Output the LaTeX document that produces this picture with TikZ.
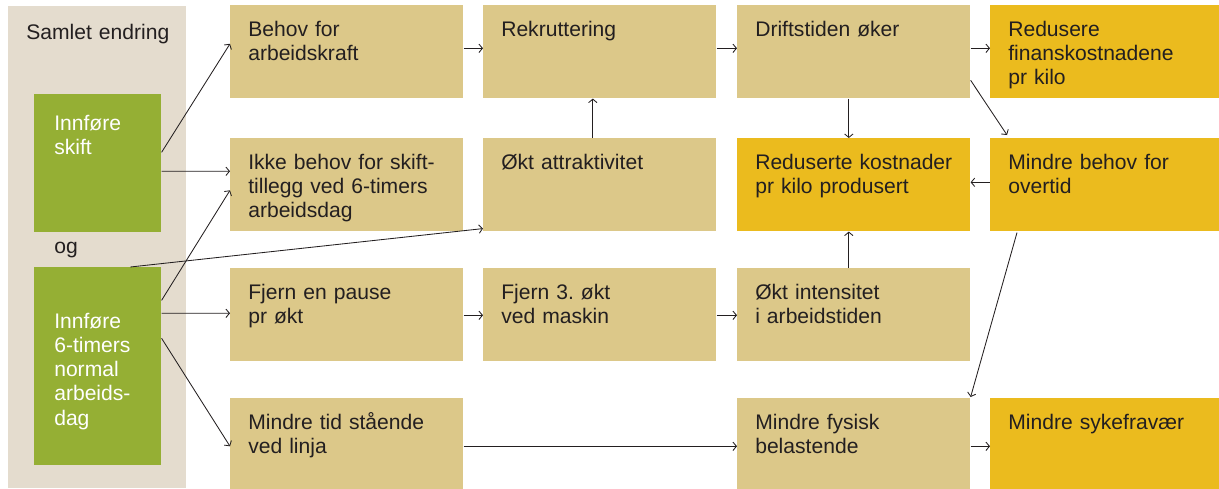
\documentclass[tikz,border=0pt]{standalone}
\usepackage{fontspec}
\setmainfont{Liberation Sans}
\usetikzlibrary{calc,arrows.meta}

\definecolor{panel}{RGB}{228,220,206}
\definecolor{leaf}{RGB}{149,175,52}
\definecolor{straw}{RGB}{220,200,137}
\definecolor{gold}{RGB}{235,187,30}
\definecolor{ink}{RGB}{35,31,32}

\begin{document}
\begin{tikzpicture}[x=0.025cm,y=-0.025cm,
    font=\fontsize{15}{17.2}\selectfont, text=ink,
    arr/.style={draw=ink, line width=0.6pt, -{Straight Barb[length=2.5pt,width=6pt]}}]

        \useasboundingbox (0,0) rectangle (1219,488);

        % left column
        \node[fill=panel, anchor=north west, text width=3.55cm, align=left,
              inner xsep=0.45cm, inner ysep=0.45cm, text height=0.375cm,
              text depth=10.775cm] (0) at (8,6) {\mbox{Samlet endring}};
        \node[anchor=base west, inner sep=0pt] (og) at (54,253) {og};

        \begin{scope}[every node/.style={fill=leaf, text=white, anchor=north west,
              text width=2.175cm, align=left, inner xsep=0.5cm, inner ysep=0.525cm}]
          \node[text height=0.375cm, text depth=2.025cm] (1) at (34,94) {Innføre\\skift};
          \node[text height=1.0cm, text depth=2.9cm] (2) at (34,267)
            {Innføre\\6-timers\\normal\\arbeids-\\dag};
        \end{scope}

        \begin{scope}[every node/.style={fill=straw, anchor=north west, text width=4.925cm,
              align=left, inner xsep=0.45cm, inner ysep=0.4cm,
              text height=0.375cm, text depth=1.15cm}]
          \node (3)  at (230,5)   {Behov for\\arbeidskraft};
          \node (4)  at (483,5)   {Rekruttering};
          \node (5)  at (737,5)   {Driftstiden øker};
          \node[fill=gold] (6)  at (990,5)   {Redusere\\finanskostnadene\\pr kilo};
          \node (7)  at (230,138) {Ikke behov for skift-\\tillegg ved 6-timers\\arbeidsdag};
          \node (8)  at (483,138) {Økt attraktivitet};
          \node[fill=gold] (9)  at (737,138) {Reduserte kostnader\\pr kilo produsert};
          \node[fill=gold] (10) at (990,138) {Mindre behov for\\overtid};
          \node (11) at (230,268) {Fjern en pause\\pr økt};
          \node (12) at (483,268) {Fjern 3.\ økt\\ved maskin};
          \node (13) at (737,268) {Økt intensitet\\i arbeidstiden};
          \node (14) at (230,398) {Mindre tid stående\\ved linja};
          \node (15) at (737,398) {Mindre fysisk\\belastende};
          \node[fill=gold] (16) at (990,398) {Mindre sykefravær};
        \end{scope}

        \draw[arr] ($(1.east)+(0,-11)$) -- ($(3.west)+(0,-8)$);
        \draw[arr] ($(1.east)+(0,8)$)   -- ($(7.west)+(0,-13.5)$);
        \draw[arr] ($(2.east)+(0,-66)$) -- ($(7.west)+(0,5.5)$);
        \draw[arr] ($(2.north)+(32.5,0)$) -- ($(8.south west)+(0,-3)$);
        \draw[arr] ($(2.east)+(0,-53)$) -- ($(11.west)+(0,-1.5)$);
        \draw[arr] ($(2.east)+(0,-28)$) -- ($(14.west)+(0,1.5)$);
        \draw[arr] ($(3.east)+(0,-3.5)$) -- ($(4.west)+(0,-3.5)$);
        \draw[arr] ($(8.north)+(-7,0)$) -- ($(4.south)+(-7,0)$);
        \draw[arr] ($(4.east)+(0,-3.5)$) -- ($(5.west)+(0,-3.5)$);
        \draw[arr] ($(5.east)+(0,-3.5)$) -- ($(6.west)+(0,-3.5)$);
        \draw[arr] ($(5.south)+(-5,0)$) -- ($(9.north)+(-5,0)$);
        \draw[arr] ($(5.east)+(0,28.5)$) -- ($(10.north west)+(17,-3)$);
        \draw[arr] ($(10.west)+(0,-2.5)$) -- ($(9.east)+(0,-2.5)$);
        \draw[arr] ($(13.north)+(-5,0)$) -- ($(9.south)+(-5,0)$);
        \draw[arr] ($(11.east)+(0,0.5)$) -- ($(12.west)+(0,0.5)$);
        \draw[arr] ($(12.east)+(0,0.5)$) -- ($(13.west)+(0,0.5)$);
        \draw[arr] ($(10.south west)+(27,1)$) -- ($(15.north east)+(0,-1)$);
        \draw[arr] ($(14.east)+(0,1.5)$) -- ($(15.west)+(0,1.5)$);
        \draw[arr] ($(15.east)+(0,1.5)$) -- ($(16.west)+(0,1.5)$);

      \end{tikzpicture}
\end{document}
